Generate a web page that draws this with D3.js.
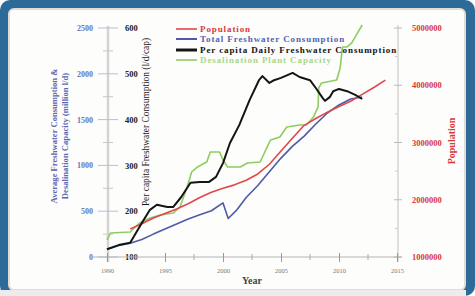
<!DOCTYPE html>
<html><head><meta charset="utf-8">
<script src="https://cdn.jsdelivr.net/npm/d3@7"></script>
<style>
html,body{margin:0;padding:0;background:#fff;}
svg{display:block;}
</style></head>
<body>
<svg id="c" width="475" height="296"></svg>
<script>
// ---- data ----
const xTicks = [1990, 1995, 2000, 2005, 2010, 2015];
const leftTicks = [0, 500, 1000, 1500, 2000, 2500];
const pcTicks = [100, 200, 300, 400, 500, 600];
const popTicks = [1000000, 2000000, 3000000, 4000000, 5000000];

const popYears = [1992,1993,1994,1995,1996,1997,1998,1999,2000,2001,2002,2003,2004,2005,2006,2007,2008,2009,2010,2011,2012,2013,2014];
const popVals = [1490000,1580000,1680000,1760000,1840000,1930000,2040000,2130000,2200000,2260000,2340000,2450000,2620000,2850000,3080000,3300000,3420000,3530000,3630000,3720000,3840000,3960000,4090000];

const consYears = [1990,1991,1992,1993,1994,1995,1996,1997,1998,1999,2000,2000.45,2001.2,2002,2003,2004,2005,2006,2007,2008,2009,2010,2011,2012];
const consVals = [85,125,150,190,250,305,360,415,460,505,590,420,515,650,780,930,1080,1210,1320,1452,1572,1660,1725,1747];

const pcYears = [1990,1991,1992,1993,1993.7,1994.3,1995.2,1995.7,1996.4,1997.2,1998,1998.8,1999.4,2000,2000.6,2001.4,2002.3,2003.1,2003.4,2004,2004.4,2005,2006,2006.6,2007.5,2008,2008.6,2008.8,2009.2,2009.5,2010,2010.7,2011.4,2012];
const pcVals = [117,126,131,174,203,214,209,209,231,262,264,264,275,305,349,388,443,486,495,480,486,491,502,493,486,469,447,441,449,462,467,462,454,445];

const desYears = [1990,1990.3,1992,1992.8,1993.7,1994.6,1995.7,1996.3,1996.9,1997.3,1997.8,1998.6,1998.9,1999.7,2000,2000.4,2001.5,2002.1,2003.2,2003.4,2004.1,2004.9,2005.5,2006.6,2007.2,2007.8,2008.2,2008.25,2008.5,2009.8,2010.1,2010.3,2010.7,2011.1,2011.6,2012];
const desVals = [186,262,273,371,426,459,480,546,764,928,983,1037,1147,1147,1059,983,983,1026,1037,1092,1278,1310,1420,1441,1441,1529,1638,1845,1900,1933,2064,2293,2293,2337,2446,2533];

const legendLabels = ["Population","Total Freshwater Consumption","Per capita Daily Freshwater Consumption","Desalination Plant Capacity"];

// ---- drawing ----
const svg = d3.select("#c");
const C = {red:"#e0474a", blue:"#4f5aa8", black:"#151515", green:"#8fcb63",
           redT:"#d9383c", blueT:"#5563b0", greenT:"#a6d889"};

// frame
svg.append("rect").attr("x",0).attr("y",0).attr("width",475).attr("height",296).attr("fill","#2c6b98").attr("rx",10);
svg.append("rect").attr("x",9).attr("y",9).attr("width",456).attr("height",281).attr("fill","#fdfdfc").attr("stroke","#e2dcd6").attr("stroke-width",2).attr("rx",5);
svg.append("rect").attr("x",0).attr("y",290).attr("width",466).attr("height",6).attr("fill","#ececec");

const x = d3.scaleLinear().domain([1990,2015]).range([107,397]);
const yL = d3.scaleLinear().domain([0,2500]).range([257,28]);
const yPC = d3.scaleLinear().domain([100,600]).range([257,28]);
const yP = d3.scaleLinear().domain([1000000,5000000]).range([257,28]);

const serif = "'Liberation Serif','Times New Roman',serif";

// left axis
const gL = svg.append("g").attr("transform","translate(108,0)");
gL.call(d3.axisLeft(yL).tickValues(leftTicks).tickFormat(d3.format("d")).tickSize(0).tickPadding(15));
gL.select(".domain").attr("stroke","#d4d4d4").attr("stroke-width",2.5).attr("d","M0,26V262");
gL.selectAll(".tick text").attr("fill","#6a76b6").attr("font-family",serif).attr("font-weight","bold").attr("font-size","8px");
gL.selectAll(".maj").data(leftTicks).join("line").attr("class","maj")
  .attr("x1",-10).attr("x2",10).attr("y1",d=>yL(d)).attr("y2",d=>yL(d)).attr("stroke","#b9bed8").attr("stroke-width",1);
gL.selectAll(".min").data(d3.range(250,2500,500)).join("line").attr("class","min")
  .attr("x1",-5).attr("x2",5).attr("y1",d=>yL(d)).attr("y2",d=>yL(d)).attr("stroke","#c8c8c8").attr("stroke-width",1);

// per-capita axis labels (inside)
const gPC = svg.append("g").attr("transform","translate(119,0)");
gPC.call(d3.axisRight(yPC).tickValues(pcTicks).tickFormat(d3.format("d")).tickSize(0).tickPadding(6));
gPC.select(".domain").remove();
gPC.selectAll(".tick text").attr("fill","#222").attr("font-family",serif).attr("font-weight","bold").attr("font-size","8.5px");

// right axis
const gR = svg.append("g").attr("transform","translate(398,0)");
gR.call(d3.axisRight(yP).tickValues(popTicks).tickFormat(d3.format("d")).tickSize(0).tickPadding(14));
gR.select(".domain").attr("stroke","#cfc9c9").attr("stroke-width",1.2).attr("d","M0,25V262");
gR.selectAll(".tick text").attr("fill","#d9383c").attr("font-family",serif).attr("font-weight","bold").attr("font-size","8.5px");
gR.selectAll(".maj").data(popTicks).join("line").attr("class","maj")
  .attr("x1",-4).attr("x2",4).attr("y1",d=>yP(d)).attr("y2",d=>yP(d)).attr("stroke","#bbb");
gR.selectAll(".min").data(d3.range(1500000,5000000,1000000)).join("line").attr("class","min")
  .attr("x1",-3).attr("x2",0).attr("y1",d=>yP(d)).attr("y2",d=>yP(d)).attr("stroke","#ccc");

// x axis
const gX = svg.append("g").attr("transform","translate(0,257)");
gX.call(d3.axisBottom(x).tickValues(xTicks).tickFormat(d3.format("d")).tickSize(5).tickPadding(6));
gX.select(".domain").attr("stroke","#b5b5b5").attr("stroke-width",1.2).attr("d","M90,0H402");
gX.selectAll(".tick line").attr("stroke","#999").attr("y1",-4);
gX.selectAll(".tick text").attr("fill","#777").attr("font-family",serif).attr("font-size","6.5px");
gX.selectAll(".min").data(d3.range(1992.5,2015,5)).join("line").attr("class","min")
  .attr("x1",d=>x(d)).attr("x2",d=>x(d)).attr("y1",-3).attr("y2",3).attr("stroke","#aaa");

// axis titles
svg.append("text").attr("transform","translate(57,136) rotate(-90)").attr("text-anchor","middle")
  .attr("fill","#5a66b0").attr("font-family",serif).attr("font-weight","bold").attr("font-size","8.6px")
  .text("Average Freshwater Consumption &");
svg.append("text").attr("transform","translate(68,136) rotate(-90)").attr("text-anchor","middle")
  .attr("fill","#5a66b0").attr("font-family",serif).attr("font-weight","bold").attr("font-size","8.6px")
  .text("Desalination Capacity (million l/d)");
svg.append("text").attr("transform","translate(149,122) rotate(-90)").attr("text-anchor","middle")
  .attr("fill","#1a1a1a").attr("font-family",serif).attr("font-size","9.4px")
  .text("Per capita Freshwater Consumption (l/d/cap)");
svg.append("text").attr("transform","translate(455,141) rotate(-90)").attr("text-anchor","middle")
  .attr("fill","#d9383c").attr("font-family",serif).attr("font-weight","bold").attr("font-size","10px")
  .text("Population");
svg.append("text").attr("x",252).attr("y",284).attr("text-anchor","middle")
  .attr("fill","#444").attr("font-family",serif).attr("font-weight","bold").attr("font-size","10px")
  .text("Year");

// lines
function draw(xs, vs, ys, color, w){
  const pts = xs.map((d,i)=>[d, vs[i]]);
  svg.append("path").datum(pts).attr("fill","none").attr("stroke",color).attr("stroke-width",w)
    .attr("stroke-linejoin","round")
    .attr("d", d3.line().x(d=>x(d[0])).y(d=>ys(d[1])));
}
draw(desYears, desVals, yL, C.green, 1.6);
draw(consYears, consVals, yL, C.blue, 1.6);
draw(popYears, popVals, yP, C.red, 1.6);
draw(pcYears, pcVals, yPC, C.black, 2);

// legend
const lg = svg.append("g");
const lgY = [29, 39, 50, 60];
const lgCol = [C.red, C.blue, C.black, C.green];
const lgTxt = [C.redT, C.blueT, "#111", C.greenT];
const lgW = [1.6, 2, 3, 1.6];
legendLabels.forEach((t,i)=>{
  lg.append("line").attr("x1",176).attr("x2",197).attr("y1",lgY[i]).attr("y2",lgY[i]).attr("stroke",lgCol[i]).attr("stroke-width",lgW[i]);
  lg.append("text").attr("x",200).attr("y",lgY[i]+3).attr("fill",lgTxt[i]).attr("font-family",serif)
    .attr("font-weight","bold").attr("font-size","9px").attr("letter-spacing","0.9px").text(t);
});
</script>
</body></html>
